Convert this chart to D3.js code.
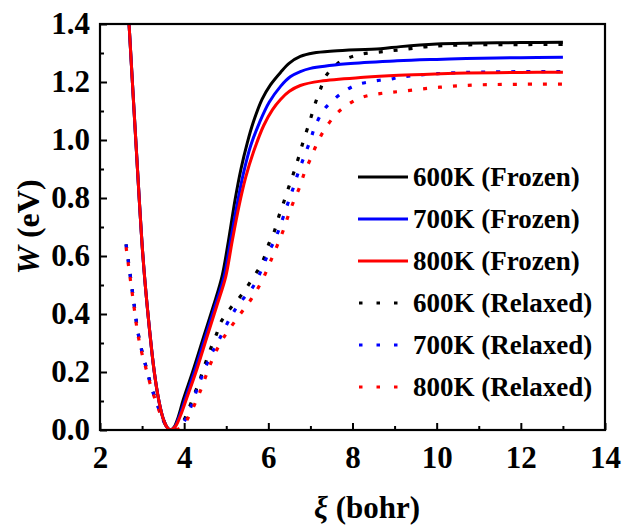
<!DOCTYPE html>
<html>
<head>
<meta charset="utf-8">
<script src="https://cdn.jsdelivr.net/npm/d3@7"></script>
<style>
  html, body { margin: 0; padding: 0; background: #fff; }
  svg { display: block; }
</style>
</head>
<body>
<svg id="chart" width="622" height="527"></svg>
<script>
// ---------- data (ξ in bohr, W in eV) ----------
const frozen600 = [[2.62,1.57],[2.69,1.40],[2.85,1.0],[3.02,0.6],[3.14,0.40],[3.29,0.20],[3.40,0.10],[3.50,0.04],[3.60,0.008],[3.67,0.0],[3.76,0.01],[3.86,0.045],[3.98,0.105],[4.2,0.2],[4.46,0.32],[4.7,0.43],[4.9,0.53],[5.05,0.65],[5.21,0.794],[5.35,0.9],[5.5,0.99],[5.64,1.06],[5.85,1.14],[6.05,1.19],[6.29,1.233],[6.5,1.265],[6.76,1.288],[7.07,1.30],[7.55,1.307],[8.67,1.315],[9.14,1.322],[10.0,1.331],[10.7,1.334],[12.0,1.336],[13.0,1.337]];
const frozen700 = [[2.62,1.57],[2.69,1.40],[2.85,1.0],[3.02,0.6],[3.14,0.40],[3.29,0.20],[3.40,0.10],[3.50,0.04],[3.60,0.008],[3.67,0.0],[3.77,0.01],[3.88,0.045],[4.02,0.105],[4.24,0.2],[4.5,0.32],[4.74,0.43],[4.95,0.53],[5.1,0.65],[5.26,0.78],[5.4,0.88],[5.58,0.98],[5.79,1.06],[6.02,1.13],[6.29,1.185],[6.52,1.218],[6.76,1.236],[7.0,1.247],[7.87,1.263],[9.06,1.273],[10.0,1.278],[10.7,1.281],[12.0,1.284],[13.0,1.285]];
const frozen800 = [[2.62,1.57],[2.69,1.40],[2.85,1.0],[3.02,0.6],[3.14,0.40],[3.29,0.20],[3.40,0.10],[3.50,0.04],[3.60,0.008],[3.67,0.0],[3.78,0.01],[3.9,0.045],[4.05,0.105],[4.28,0.2],[4.54,0.32],[4.78,0.43],[4.99,0.53],[5.14,0.65],[5.3,0.77],[5.46,0.87],[5.65,0.96],[5.89,1.05],[6.1,1.105],[6.29,1.14],[6.5,1.168],[6.76,1.188],[7.24,1.203],[8.27,1.216],[9.1,1.223],[10.0,1.228],[10.7,1.231],[12.0,1.233],[13.0,1.234]];
const relaxed600 = [[2.62,0.64],[2.67,0.587],[2.79,0.456],[2.9,0.34],[3.0,0.27],[3.11,0.21],[3.22,0.15],[3.36,0.09],[3.5,0.035],[3.6,0.01],[3.7,0.0],[3.85,0.01],[3.98,0.03],[4.1,0.07],[4.26,0.13],[4.36,0.167],[4.48,0.22],[4.62,0.277],[4.78,0.335],[4.86,0.369],[5.1,0.42],[5.37,0.467],[5.61,0.519],[5.85,0.576],[6.02,0.645],[6.13,0.68],[6.25,0.737],[6.36,0.783],[6.48,0.835],[6.6,0.886],[6.72,0.941],[6.84,1.0],[6.98,1.062],[7.1,1.12],[7.24,1.176],[7.36,1.219],[7.64,1.263],[7.9,1.283],[8.2,1.296],[8.67,1.304],[9.14,1.311],[9.79,1.322],[10.7,1.328],[12.0,1.329],[13.0,1.33]];
const relaxed700 = [[2.62,0.64],[2.67,0.585],[2.79,0.455],[2.9,0.338],[3.0,0.268],[3.11,0.208],[3.22,0.148],[3.36,0.088],[3.5,0.034],[3.6,0.01],[3.7,0.0],[3.85,0.005],[4.0,0.03],[4.12,0.065],[4.33,0.15],[4.62,0.254],[4.81,0.306],[5.1,0.388],[5.33,0.44],[5.62,0.49],[5.86,0.56],[6.0,0.61],[6.12,0.646],[6.25,0.69],[6.36,0.737],[6.48,0.788],[6.6,0.838],[6.72,0.892],[6.86,0.946],[7.0,1.0],[7.1,1.043],[7.32,1.104],[7.6,1.145],[7.86,1.173],[8.13,1.192],[8.39,1.2],[8.65,1.206],[8.9,1.21],[9.14,1.217],[9.93,1.228],[10.97,1.234],[13.0,1.236]];
const relaxed800 = [[2.62,0.63],[2.67,0.575],[2.79,0.445],[2.9,0.33],[3.0,0.262],[3.11,0.203],[3.22,0.145],[3.36,0.085],[3.5,0.032],[3.6,0.01],[3.72,0.0],[3.88,0.005],[4.02,0.025],[4.14,0.055],[4.38,0.133],[4.62,0.226],[4.86,0.3],[5.1,0.353],[5.36,0.405],[5.62,0.457],[5.86,0.518],[6.1,0.598],[6.25,0.65],[6.36,0.69],[6.48,0.742],[6.6,0.788],[6.75,0.84],[6.86,0.888],[7.02,0.941],[7.12,0.976],[7.31,1.03],[7.6,1.087],[7.85,1.118],[8.13,1.142],[8.39,1.154],[8.65,1.16],[8.89,1.164],[9.1,1.167],[9.79,1.178],[10.33,1.185],[10.97,1.19],[13.0,1.193]];

const seriesNames = ["600K (Frozen)","700K (Frozen)","800K (Frozen)","600K (Relaxed)","700K (Relaxed)","800K (Relaxed)"];
const seriesData = [frozen600, frozen700, frozen800, relaxed600, relaxed700, relaxed800];
const seriesColors = ["#000000","#0000ff","#ff0000","#000000","#0000ff","#ff0000"];
const seriesDotted = [false,false,false,true,true,true];

const xMajorTicks = [2,4,6,8,10,12,14];
const xMinorTicks = [3,5,7,9,11,13];
const yMajorTicks = [0.0,0.2,0.4,0.6,0.8,1.0,1.2,1.4];
const yMinorTicks = [0.1,0.3,0.5,0.7,0.9,1.1,1.3];

// ---------- layout ----------
const FONT = '"Liberation Serif"';
const L = 100, R = 605, T = 24, B = 430;
const svg = d3.select("#chart");
const x = d3.scaleLinear().domain([2,14]).range([L,R]);
const y = d3.scaleLinear().domain([0,1.4]).range([B,T]);

function styleText(sel, size) {
  return sel.style("font-family", FONT)
    .style("font-weight","bold").style("font-size", size + "px").style("fill","#000");
}

svg.append("defs").append("clipPath").attr("id","plotclip")
  .append("rect").attr("x",L).attr("y",T).attr("width",R-L).attr("height",B-T);

// axes
const fmtY = d3.format(".1f");
const gx = svg.append("g").attr("transform",`translate(0,${B})`)
  .call(d3.axisBottom(x).tickValues(xMajorTicks).tickSize(-7).tickPadding(16).tickFormat(d3.format("d")));
const gxm = svg.append("g").attr("transform",`translate(0,${B})`)
  .call(d3.axisBottom(x).tickValues(xMinorTicks).tickSize(-4).tickFormat(""));
const gy = svg.append("g").attr("transform",`translate(${L},0)`)
  .call(d3.axisLeft(y).tickValues(yMajorTicks).tickSize(-7).tickPadding(10).tickFormat(fmtY));
const gym = svg.append("g").attr("transform",`translate(${L},0)`)
  .call(d3.axisLeft(y).tickValues(yMinorTicks).tickSize(-4).tickFormat(""));
[gx,gxm,gy,gym].forEach(g => {
  g.attr("font-family", null).attr("font-size", null);
  g.select(".domain").remove();
  g.selectAll(".tick line").attr("stroke","#000").attr("stroke-width",2);
  styleText(g.selectAll("text"), 31);
});

// curves
const line = d3.line().x(d=>x(d[0])).y(d=>y(d[1])).curve(d3.curveCatmullRom.alpha(0.5));
const plot = svg.append("g").attr("clip-path","url(#plotclip)");
const drawOrder = [3,4,5,0,1,2];
drawOrder.forEach(i => {
  plot.append("path").datum(seriesData[i])
    .attr("d",line).attr("fill","none")
    .attr("stroke",seriesColors[i])
    .attr("stroke-width", seriesDotted[i] ? 3.2 : 3)
    .attr("stroke-dasharray", seriesDotted[i] ? "4,11" : null)
    .attr("stroke-linejoin","round");
});

// frame
svg.append("rect").attr("x",L).attr("y",T).attr("width",R-L).attr("height",B-T)
  .attr("fill","none").attr("stroke","#000").attr("stroke-width",2.2);

// legend
const leg = svg.append("g");
seriesNames.forEach((name,i) => {
  const cy = 177 + i*42;
  leg.append("line").attr("x1",358).attr("x2",408).attr("y1",cy).attr("y2",cy)
    .attr("stroke",seriesColors[i]).attr("stroke-width",3)
    .attr("stroke-dasharray", seriesDotted[i] ? "3.5,14" : null)
    .attr("stroke-dashoffset", seriesDotted[i] ? -1 : null);
  styleText(leg.append("text").attr("x",413).attr("y",cy+9), 27).text(name);
});

// axis titles
const xt = styleText(svg.append("text").attr("x",367).attr("y",518).attr("text-anchor","middle"), 31);
xt.append("tspan").style("font-style","italic").text("ξ");
xt.append("tspan").text(" (bohr)");
const yt = styleText(svg.append("text").attr("transform","translate(39,227) rotate(-90)").attr("text-anchor","middle"), 32);
yt.append("tspan").style("font-style","italic").text("W");
yt.append("tspan").text(" (eV)");
</script>
</body>
</html>
